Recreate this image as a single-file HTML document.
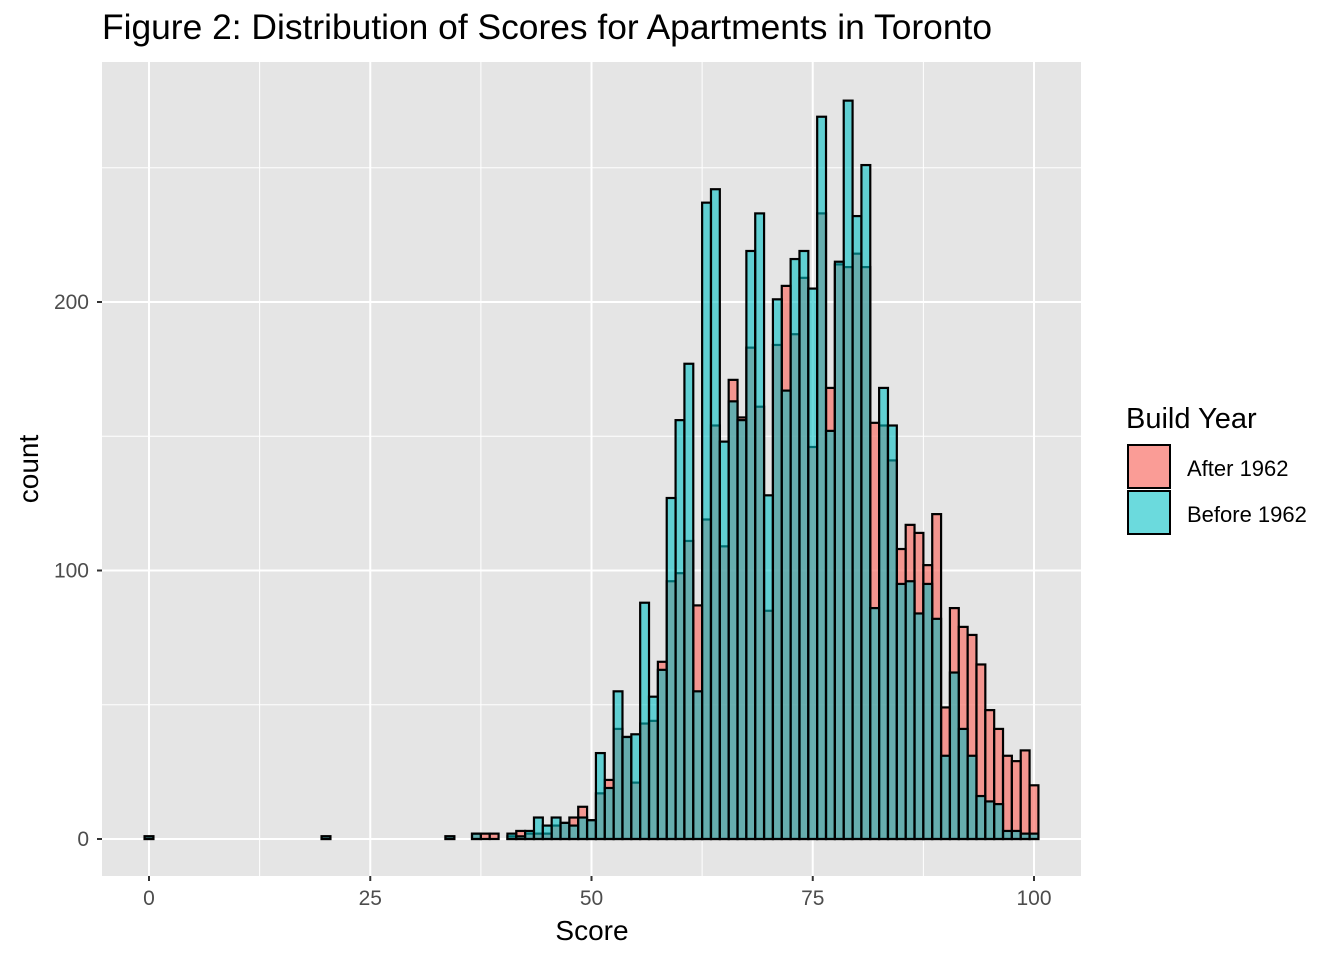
<!DOCTYPE html>
<html><head><meta charset="utf-8">
<style>
html,body{margin:0;padding:0;background:#fff;}
svg text{font-family:"Liberation Sans",Arial,sans-serif;}
</style></head>
<body>
<svg id="chart" width="1344" height="960" viewBox="0 0 1344 960" xmlns="http://www.w3.org/2000/svg">
<rect x="0" y="0" width="1344" height="960" fill="#fff"/>
<text x="102" y="39" font-size="35" fill="#000" textLength="890" lengthAdjust="spacingAndGlyphs">Figure 2: Distribution of Scores for Apartments in Toronto</text>
<rect x="102" y="62" width="979" height="814" fill="#E5E5E5"/>
<g id="grid"></g>
<g id="bars"></g>
<g id="axes"></g>
<text x="592" y="940" font-size="28" text-anchor="middle" fill="#000">Score</text>
<text transform="translate(38,469) rotate(-90)" font-size="28" text-anchor="middle" fill="#000">count</text>
<g>
<text x="1126" y="428" font-size="29" fill="#000">Build Year</text>
<rect x="1128" y="445" width="42" height="43" fill="#F8766D" fill-opacity="0.72" stroke="#000" stroke-width="2"/>
<rect x="1128" y="491" width="42" height="43" fill="#00BFC4" fill-opacity="0.58" stroke="#000" stroke-width="2"/>
<text x="1187" y="476" font-size="22" fill="#000">After 1962</text>
<text x="1187" y="522" font-size="22" fill="#000">Before 1962</text>
</g>
</svg>
<script>
const scores = [0,20,34,37,38,39,41,42,43,44,45,46,47,48,49,50,51,52,53,54,55,56,57,58,59,60,61,62,63,64,65,66,67,68,69,70,71,72,73,74,75,76,77,78,79,80,81,82,83,84,85,86,87,88,89,90,91,92,93,94,95,96,97,98,99,100];
const afterCounts = [1,1,1,2,2,2,1,3,2,2,2,5,6,8,12,7,17,22,41,38,21,43,44,66,96,99,111,87,119,154,109,171,157,183,161,85,184,206,188,209,146,233,168,214,213,218,213,155,154,141,108,117,114,102,121,49,86,79,76,65,48,41,31,29,33,20];
const beforeCounts = [1,1,1,2,0,0,2,1,3,8,5,8,6,5,8,7,32,19,55,38,39,88,53,63,127,156,177,55,237,242,148,163,156,219,233,128,201,167,216,219,205,269,152,215,275,232,251,86,168,154,95,96,84,95,82,31,62,41,31,16,14,13,3,3,2,2];
const xTicks = [0,25,50,75,100];
const yTicks = [0,100,200];

const NS = "http://www.w3.org/2000/svg";
const X0 = 149, XS = 8.85, Y0 = 839, YS = 2.685;
const xPos = v => X0 + v * XS;
const yPos = v => Y0 - v * YS;
function mk(tag, attrs, parent) {
  const e = document.createElementNS(NS, tag);
  for (const k in attrs) e.setAttribute(k, attrs[k]);
  parent.appendChild(e);
  return e;
}
const grid = document.getElementById('grid');
const bars = document.getElementById('bars');
const axes = document.getElementById('axes');
[12.5,37.5,62.5,87.5].forEach(v => {
  const l = mk('line', {x1:xPos(v), x2:xPos(v), y1:62, y2:876, stroke:'#fff', 'stroke-width':1}, grid);
  
  
});
[50,150,250].forEach(v => {
  const l = mk('line', {x1:102, x2:1081, y1:yPos(v), y2:yPos(v), stroke:'#fff', 'stroke-width':1}, grid);
  
  
});
xTicks.forEach(v => {
  const l = mk('line', {x1:xPos(v), x2:xPos(v), y1:62, y2:876, stroke:'#fff', 'stroke-width':2}, grid);
  
  
  const t = mk('line', {x1:xPos(v), x2:xPos(v), y1:876, y2:881, stroke:'#333', 'stroke-width':2}, axes);
  
  
  const tx = mk('text', {x:xPos(v), y:905, 'font-size':21, fill:'#4D4D4D', 'text-anchor':'middle'}, axes);
  tx.textContent = v;
  
  
});
yTicks.forEach(v => {
  const l = mk('line', {x1:102, x2:1081, y1:yPos(v), y2:yPos(v), stroke:'#fff', 'stroke-width':2}, grid);
  
  
  const t = mk('line', {x1:97, x2:102, y1:yPos(v), y2:yPos(v), stroke:'#333', 'stroke-width':2}, axes);
  
  
  const tx = mk('text', {x:89, y:yPos(v)+7, 'font-size':21, fill:'#4D4D4D', 'text-anchor':'end'}, axes);
  tx.textContent = v;
  
  
});
function drawSeries(vals, color, op, name) {
  scores.forEach((s, i) => {
    const c = vals[i];
    if (c <= 0) return;
    const x = xPos(s - 0.5), w = XS;
    const y = yPos(c), h = Y0 - y;
    const r = mk('rect', {x:x, y:y, width:w, height:h, fill:color, 'fill-opacity':op, stroke:'#000', 'stroke-width':2.2}, bars);
    
    
  });
}
drawSeries(afterCounts, '#F8766D', 0.72, 'bar-after-1962');
drawSeries(beforeCounts, '#00BFC4', 0.58, 'bar-before-1962');
</script>
</body></html>
